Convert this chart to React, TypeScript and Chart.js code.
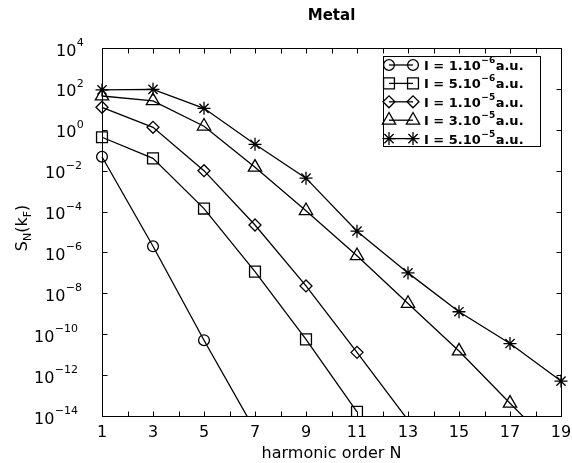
import React, { useEffect, useRef } from "react";
import { Chart, registerables } from "chart.js";

Chart.register(...registerables);

// ---------- data ----------
const harmonicOrders = [1, 3, 5, 7, 9, 11, 13, 15, 17, 19];

const seriesCircle = [4.8e-2, 2.0e-6, 5.1e-11, 2.0e-15];
const seriesSquare = [0.43, 4.0e-2, 1.4e-4, 1.15e-7, 5.6e-11, 1.6e-14];
const seriesDiamond = [12.6, 1.32, 1.0e-2, 2.2e-5, 2.3e-8, 1.3e-11, 6.3e-15];
const seriesTriangle = [45, 26, 1.5, 1.45e-2, 1.1e-4, 6.9e-7, 3.2e-9, 1.5e-11, 4.2e-14, 1.3e-16];
const seriesStar = [89, 95, 11.2, 0.195, 4.3e-3, 1.1e-5, 1.0e-7, 1.26e-9, 3.5e-11, 5.1e-13];

const legendBase = ["I = 1.10", "I = 5.10", "I = 1.10", "I = 3.10", "I = 5.10"];
const legendExp = ["\u22126", "\u22126", "\u22125", "\u22125", "\u22125"];
const legendUnit = "a.u.";

const xTickValues = [1, 2, 3, 4, 5, 6, 7, 8, 9, 10, 11, 12, 13, 14, 15, 16, 17, 18, 19];
const xTickLabels = ["1", "3", "5", "7", "9", "11", "13", "15", "17", "19"];
const yTickExponents = [4, 2, 0, -2, -4, -6, -8, -10, -12, -14];

const chartTitle = "Metal";
const xAxisTitle = "harmonic order N";

const FONT = "'DejaVu Sans', sans-serif";
const Y_MIN = 1e-14;
const Y_MAX = 1e4;
const LW = 1.3;

type Marker = "circle" | "rect" | "rectRot" | "triangle" | "star";
const markerStyles: Marker[] = ["circle", "rect", "rectRot", "triangle", "star"];
const markerRadius = [5.4, 7.7, 6, 7.7, 6.5];

function drawMarker(ctx: CanvasRenderingContext2D, style: Marker, x: number, y: number, r: number) {
  ctx.beginPath();
  if (style === "circle") {
    ctx.arc(x, y, r, 0, Math.PI * 2);
  } else if (style === "rect") {
    const s = r * Math.SQRT1_2;
    ctx.rect(x - s, y - s, 2 * s, 2 * s);
  } else if (style === "rectRot") {
    ctx.moveTo(x - r, y);
    ctx.lineTo(x, y - r);
    ctx.lineTo(x + r, y);
    ctx.lineTo(x, y + r);
    ctx.closePath();
  } else if (style === "triangle") {
    let a = 0;
    ctx.moveTo(x + Math.sin(a) * r, y - Math.cos(a) * r);
    a += (2 * Math.PI) / 3;
    ctx.lineTo(x + Math.sin(a) * r, y - Math.cos(a) * r);
    a += (2 * Math.PI) / 3;
    ctx.lineTo(x + Math.sin(a) * r, y - Math.cos(a) * r);
    ctx.closePath();
  } else {
    const d = r * Math.SQRT1_2;
    ctx.moveTo(x - r, y);
    ctx.lineTo(x + r, y);
    ctx.moveTo(x, y - r);
    ctx.lineTo(x, y + r);
    ctx.moveTo(x - d, y - d);
    ctx.lineTo(x + d, y + d);
    ctx.moveTo(x - d, y + d);
    ctx.lineTo(x + d, y - d);
  }
  ctx.stroke();
}

const decorPlugin = {
  id: "decor",
  beforeDatasetsDraw(chart: any) {
    const { ctx, chartArea } = chart;
    const xs = chart.scales.x;
    const ys = chart.scales.y;
    const L = Math.round(chartArea.left) + 0.5;
    const R = Math.round(chartArea.right) + 0.5;
    const T = Math.round(chartArea.top) + 0.5;
    const B = Math.round(chartArea.bottom) + 0.5;
    ctx.save();
    ctx.strokeStyle = "#000";
    ctx.lineWidth = 1;
    ctx.strokeRect(L, T, R - L, B - T);
    ctx.beginPath();
    const tl = 5;
    for (const v of xTickValues) {
      const px = Math.round(xs.getPixelForValue(v)) + 0.5;
      ctx.moveTo(px, B);
      ctx.lineTo(px, B - tl);
      ctx.moveTo(px, T);
      ctx.lineTo(px, T + tl);
    }
    for (const e of yTickExponents) {
      const py = Math.round(ys.getPixelForValue(Math.pow(10, e))) + 0.5;
      ctx.moveTo(L, py);
      ctx.lineTo(L + tl, py);
      ctx.moveTo(R, py);
      ctx.lineTo(R - tl, py);
    }
    ctx.stroke();
    ctx.restore();
  },
  afterDraw(chart: any) {
    const { ctx, chartArea } = chart;
    const xs = chart.scales.x;
    const ys = chart.scales.y;
    const cx = (chartArea.left + chartArea.right) / 2;
    ctx.save();
    ctx.fillStyle = "#000";
    ctx.strokeStyle = "#000";

    // title
    ctx.font = `bold 15px ${FONT}`;
    ctx.textAlign = "center";
    ctx.textBaseline = "alphabetic";
    ctx.fillText(chartTitle, cx, 20);

    // x tick labels
    ctx.font = `16px ${FONT}`;
    for (const lbl of xTickLabels) {
      const px = xs.getPixelForValue(Number(lbl));
      ctx.fillText(lbl, px, 437);
    }
    // x title
    ctx.fillText(xAxisTitle, cx, 458);

    // y tick labels: 10^e
    ctx.textAlign = "left";
    for (const e of yTickExponents) {
      const py = ys.getPixelForValue(Math.pow(10, e));
      const expStr = e < 0 ? "\u2212" + String(-e) : String(e);
      const x0 = 67 - 11 * expStr.length;
      ctx.font = `16px ${FONT}`;
      ctx.fillText("10", x0, py + 7.5);
      const w = ctx.measureText("10").width;
      ctx.font = `11px ${FONT}`;
      ctx.fillText(expStr, x0 + w + 0.5, py - 2);
    }

    // y title: S_N(k_F), rotated
    const parts: [string, boolean][] = [["S", false], ["N", true], ["(k", false], ["F", true], [")", false]];
    const big = `16px ${FONT}`;
    const small = `11px ${FONT}`;
    let total = 0;
    for (const [t, sub] of parts) {
      ctx.font = sub ? small : big;
      total += ctx.measureText(t).width;
    }
    ctx.translate(27, (chartArea.top + chartArea.bottom) / 2 - 4);
    ctx.rotate(-Math.PI / 2);
    let off = -total / 2;
    for (const [t, sub] of parts) {
      ctx.font = sub ? small : big;
      ctx.fillText(t, off, sub ? 4 : 0);
      off += ctx.measureText(t).width;
    }
    ctx.setTransform(1, 0, 0, 1, 0, 0);

    // legend
    const bx = 383.5, by = 56.5, bw = 157, bh = 90;
    ctx.fillStyle = "#fff";
    ctx.fillRect(bx, by, bw, bh);
    ctx.strokeStyle = "#000";
    ctx.lineWidth = 1;
    ctx.strokeRect(bx, by, bw, bh);
    ctx.fillStyle = "#000";
    ctx.lineWidth = LW;
    for (let i = 0; i < legendBase.length; i++) {
      const ry = 65 + i * 18.4;
      ctx.beginPath();
      ctx.moveTo(389, ry);
      ctx.lineTo(413, ry);
      ctx.stroke();
      drawMarker(ctx, markerStyles[i], 389, ry, markerRadius[i]);
      drawMarker(ctx, markerStyles[i], 413, ry, markerRadius[i]);
      ctx.font = `bold 13px ${FONT}`;
      ctx.textAlign = "left";
      ctx.fillText(legendBase[i], 424, ry + 5);
      let tx = 424 + ctx.measureText(legendBase[i]).width;
      ctx.font = `bold 9px ${FONT}`;
      ctx.fillText(legendExp[i], tx + 0.5, ry - 2);
      tx += ctx.measureText(legendExp[i]).width + 1;
      ctx.font = `bold 13px ${FONT}`;
      ctx.fillText(legendUnit, tx, ry + 5);
    }
    ctx.restore();
  },
};

const allSeries = [seriesCircle, seriesSquare, seriesDiamond, seriesTriangle, seriesStar];

export default function App() {
  const ref = useRef<HTMLCanvasElement | null>(null);
  useEffect(() => {
    if (!ref.current) return;
    const datasets = allSeries.map((s, i) => ({
      label: legendBase[i] + legendExp[i] + legendUnit,
      data: s.map((v, j) => ({ x: harmonicOrders[j], y: v })),
      borderColor: "#000",
      borderWidth: LW,
      backgroundColor: "transparent",
      pointStyle: markerStyles[i],
      pointRadius: (c: any) => (c.raw && c.raw.y < Y_MIN ? 0 : markerRadius[i]),
      pointBorderColor: "#000",
      pointBackgroundColor: "transparent",
      pointBorderWidth: LW,
      tension: 0,
      clip: { left: false, right: false, top: false, bottom: 0 },
    }));
    const chart = new Chart(ref.current, {
      type: "line",
      data: { datasets: datasets as any },
      options: {
        animation: false,
        responsive: false,
        devicePixelRatio: 1,
        events: [],
        layout: { padding: { left: 102, right: 11, top: 48, bottom: 47 } },
        plugins: { legend: { display: false }, tooltip: { enabled: false }, title: { display: false } },
        scales: {
          x: {
            type: "linear",
            min: 1,
            max: 19,
            ticks: { display: false },
            grid: { display: false, drawTicks: false },
            border: { display: false },
            afterFit: (s: any) => { s.height = 0; },
          },
          y: {
            type: "logarithmic",
            min: Y_MIN,
            max: Y_MAX,
            ticks: { display: false },
            grid: { display: false, drawTicks: false },
            border: { display: false },
            afterFit: (s: any) => { s.width = 0; },
          },
        },
      } as any,
      plugins: [decorPlugin],
    });
    return () => chart.destroy();
  }, []);
  return (
    <div style={{ position: "fixed", left: 0, top: 0, width: 572, height: 463, background: "#fff" }}>
      <canvas ref={ref} width={572} height={463} style={{ display: "block" }} />
    </div>
  );
}
